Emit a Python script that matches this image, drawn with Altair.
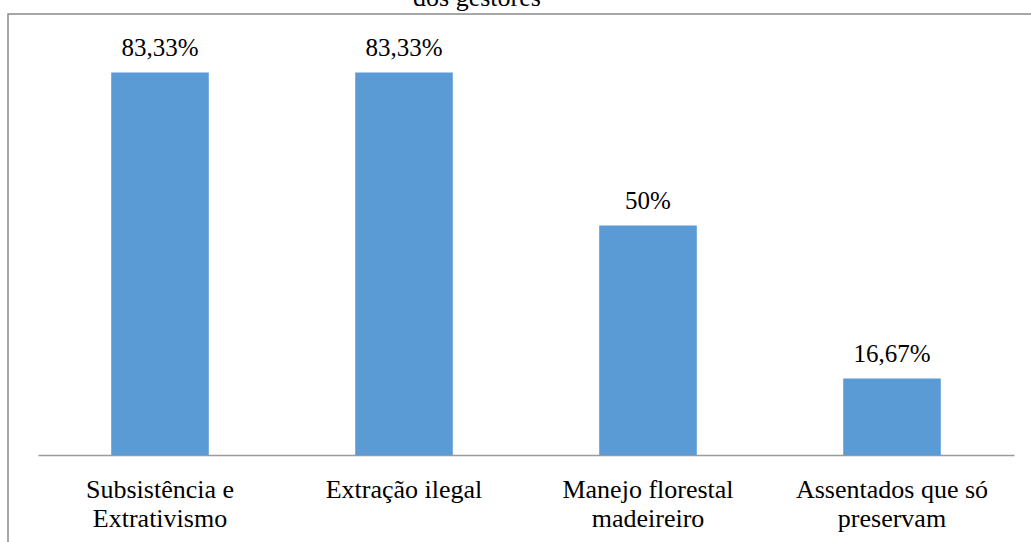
import altair as alt
import pandas as pd

# Percentages reported for each category
categories = ["Subsistência e\nExtrativismo", "Extração ilegal",
              "Manejo florestal\nmadeireiro", "Assentados que só\npreservam"]
values = [83.33, 83.33, 50.0, 16.67]


def pt_percent(v):
    s = f"{v:.2f}".rstrip("0").rstrip(".")
    return s.replace(".", ",") + "%"


df = pd.DataFrame({
    "categoria": categories,
    "valor": values,
    "rotulo": [pt_percent(v) for v in values],
})

FONT = "Liberation Serif"
BAR = "#5B9BD5"

x_enc = alt.X(
    "categoria:N", sort=categories, title=None,
    scale=alt.Scale(paddingInner=0.6, paddingOuter=0.3),
    axis=alt.Axis(
        labelAngle=0, ticks=False, grid=False,
        domainColor="#9a9a9a", domainWidth=1.5,
        labelFont=FONT, labelFontSize=26, labelColor="#000000",
        labelPadding=42, labelBaseline="alphabetic", labelLineHeight=29,
        labelLimit=400,
        labelExpr="split(datum.label, '\\n')",
    ),
)
y_enc = alt.Y("valor:Q", scale=alt.Scale(domain=[0, 90], nice=False), axis=None)

base = alt.Chart(df)

bars = base.mark_bar(color=BAR).encode(x=x_enc, y=y_enc)

labels = base.mark_text(
    font=FONT, fontSize=25, color="#000000", baseline="alphabetic", dy=-16.5
).encode(x=x_enc, y=y_enc, text="rotulo:N")

# Outer frame of the figure
frame = alt.Chart(pd.DataFrame({"k": [0]})).mark_rect(
    fillOpacity=0, stroke="#8a8a8a", strokeWidth=1.5
).encode(x=alt.value(-30), x2=alt.value(2000), y=alt.value(-28), y2=alt.value(2000))

# Last line of the figure title, running off the top edge
title = alt.Chart(pd.DataFrame({"t": ["dos gestores"]})).mark_text(
    font=FONT, fontSize=26, color="#000000", baseline="alphabetic", align="center"
).encode(x=alt.value(439), y=alt.value(-36), text="t:N")

chart = alt.layer(frame, bars, labels, title).properties(
    width=976, height=413,
    autosize=alt.AutoSizeParams(type="none"),
    padding={"left": 38, "top": 42, "right": 17, "bottom": 87},
).configure(
    background="#ffffff", font=FONT
).configure_view(strokeWidth=0, stroke=None)

chart.save("out.html", embed_options={"renderer": "svg", "actions": False})
